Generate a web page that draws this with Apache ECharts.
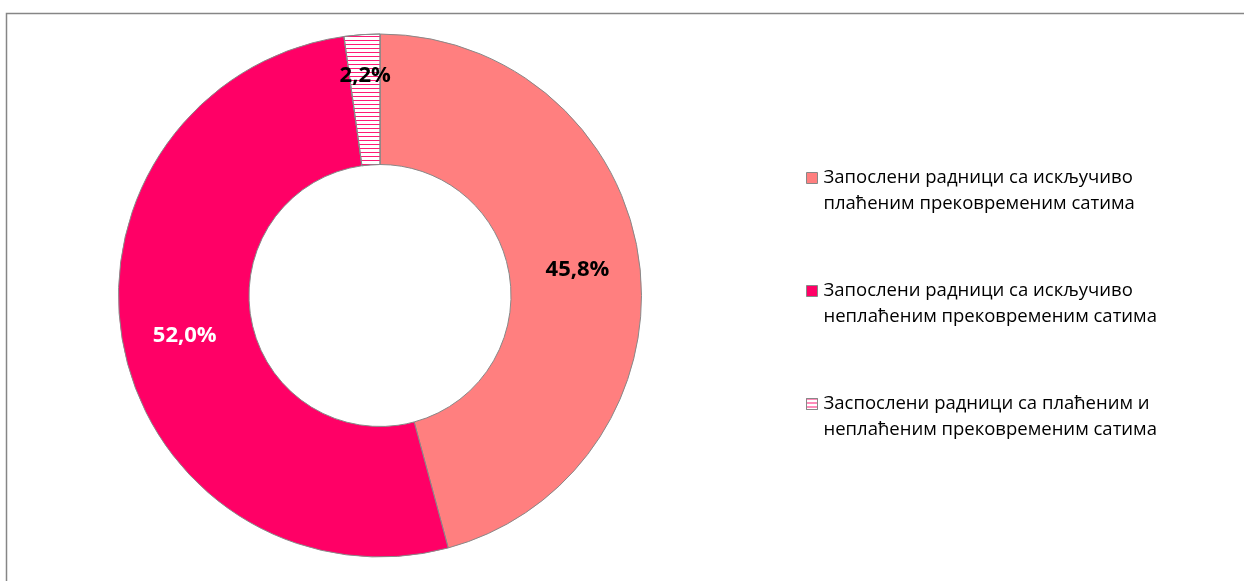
<!DOCTYPE html>
<html><head><meta charset="utf-8">
<script src="https://cdn.jsdelivr.net/npm/echarts@6/dist/echarts.min.js"></script>
<style>html,body{margin:0;padding:0;background:#fff}#c{width:1244px;height:581px}</style>
</head><body><div id="c"></div>
<script>
const categories = [
  'Запослени радници са искључиво\nплаћеним прековременим сатима',
  'Запослени радници са искључиво\nнеплаћеним прековременим сатима',
  'Заспослени радници са плаћеним и\nнеплаћеним прековременим сатима'
];
const values = [45.8, 52.0, 2.2];
const labelColors = ['#000000', '#ffffff', '#000000'];

const stripeDecal = {symbol: 'rect', color: '#ff1a75', dashArrayX: [1, 0], dashArrayY: [1, 3], symbolSize: 1, rotation: 0};
const colors = ['#ff7f7f', '#ff0066', '#ffffff'];

const chart = echarts.init(document.getElementById('c'), null, {renderer: 'canvas'});
chart.setOption({
  animation: false,
  graphic: [{type: 'rect', shape: {x: 6.5, y: 13.5, width: 1300, height: 700},
    style: {fill: null, stroke: '#868686', lineWidth: 1.5}, silent: true}],
  legend: {
    orient: 'vertical', left: 806, top: 139, padding: 0, itemWidth: 11, itemHeight: 11, itemGap: 35,
    icon: 'rect',
    data: categories,
    formatter: n => '\n' + n,
    textStyle: {fontFamily: 'Open Sans', fontSize: 18.5, lineHeight: 26, color: '#000', padding: [0,0,0,1]},
    itemStyle: {borderColor: '#888', borderWidth: 1}
  },
  series: [{
    type: 'pie', center: [380, 295.5], radius: [131, 261.5], startAngle: 90, clockwise: true,
    avoidLabelOverlap: false,
    itemStyle: {borderColor: '#888', borderWidth: 1},
    label: {show: true, position: 'inside', fontFamily: 'Open Sans', fontWeight: 'bold', fontSize: 22,
      textBorderWidth: 0,
      formatter: p => p.value.toFixed(1).replace('.', ',') + '%'},
    labelLine: {show: false},
    labelLayout: p => p.dataIndex === 2 ? {dy: -21, dx: -1} : {},
    emphasis: {disabled: true},
    data: categories.map((n, i) => ({name: n, value: values[i],
      itemStyle: i === 2 ? {color: colors[i], decal: stripeDecal} : {color: colors[i]},
      label: {color: labelColors[i]}}))
  }]
});
</script></body></html>
